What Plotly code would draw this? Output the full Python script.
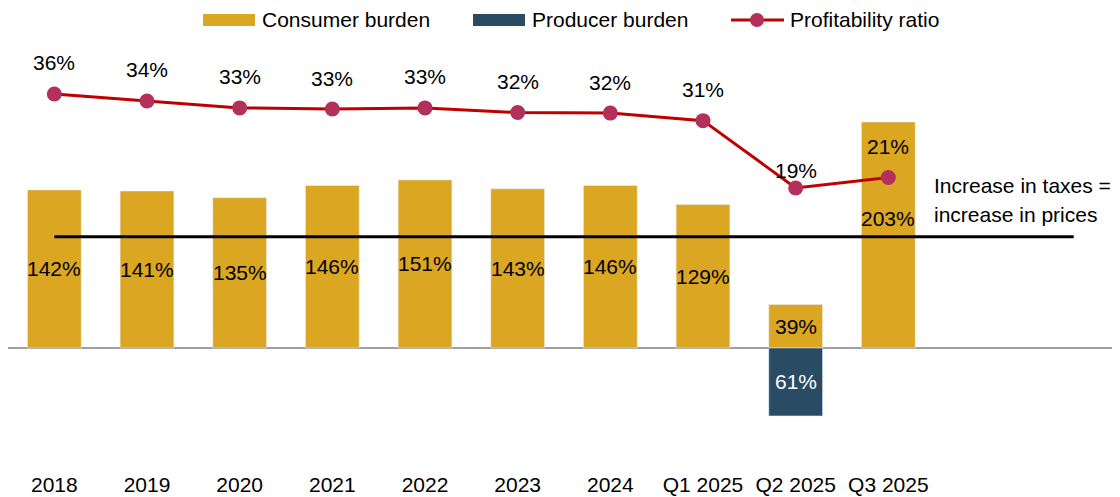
import plotly.graph_objects as go

categories = ["2018", "2019", "2020", "2021", "2022", "2023", "2024",
              "Q1 2025", "Q2 2025", "Q3 2025", "", " "]
consumer = [142, 141, 135, 146, 151, 143, 146, 129, 39, 203]
producer = [None, None, None, None, None, None, None, None, -61, None]
profit = [35.6, 34.4, 33.2, 33.0, 33.2, 32.4, 32.3, 31.0, 19.4, 21.2]
threshold = 100
legend_names = ["Consumer burden", "Producer burden", "Profitability ratio"]
note_lines = ["Increase in taxes =", "increase in prices"]

GOLD = "#DBA622"
NAVY = "#294B63"
RED = "#C00000"
MARK = "#B3305A"
FONT = "Liberation Sans, Arial, sans-serif"
FS = 21

xs = list(range(len(categories)))
n = len(consumer)

fig = go.Figure()
fig.add_trace(go.Bar(x=xs[:n], y=consumer, marker_color=GOLD, width=0.58,
                     name=legend_names[0], showlegend=False))
fig.add_trace(go.Bar(x=xs[:n], y=producer, marker_color=NAVY, width=0.58,
                     name=legend_names[1], showlegend=False))
fig.add_trace(go.Scatter(x=xs[:n], y=profit, yaxis="y2", mode="lines+markers",
                         line=dict(color=RED, width=3),
                         marker=dict(color=MARK, size=15),
                         name=legend_names[2], showlegend=False))

# Page has an 8px body margin; figure sized to fit the window
OFF = 8
W, H = 1120 - OFF, 497 - OFF
ml, mr, mt, mb = 0, 0, 40 - OFF, 497 - 470
pw, ph = W - ml - mr, H - mt - mb


def px_x(x):
    return (x - OFF - ml) / pw


def px_y(y):
    return (H - mb - (y - OFF)) / ph


def font(color="black"):
    return dict(size=FS, color=color, family=FONT)


ann = []
for i, v in enumerate(consumer):
    ann.append(dict(x=i, y=v / 2, text=f"{v}%", showarrow=False,
                    yanchor="middle", yshift=17 if v > 200 else 0, font=font()))
for i, v in enumerate(producer):
    if v is not None:
        ann.append(dict(x=i, y=v / 2, text=f"{abs(v)}%", showarrow=False,
                        yanchor="middle", font=font("white")))
for i, v in enumerate(profit):
    ann.append(dict(x=i, y=v, yref="y2", text=f"{round(v)}%", showarrow=False,
                    yanchor="middle", yshift=17 if v < 20 else 31, font=font()))
for k, (t, y) in enumerate(zip(note_lines, [185, 215])):
    ann.append(dict(x=px_x(932), y=px_y(y), xref="paper", yref="paper",
                    text=t, showarrow=False, xanchor="left", yanchor="middle",
                    font=font()))

shapes = [
    dict(type="line", xref="x", yref="y", x0=0, x1=11, y0=threshold, y1=threshold,
         line=dict(color="black", width=3)),
    dict(type="rect", xref="paper", yref="paper", x0=px_x(203), x1=px_x(255),
         y0=px_y(26), y1=px_y(14), fillcolor=GOLD, line=dict(width=0)),
    dict(type="rect", xref="paper", yref="paper", x0=px_x(473), x1=px_x(525),
         y0=px_y(26), y1=px_y(14), fillcolor=NAVY, line=dict(width=0)),
    dict(type="line", xref="paper", yref="paper", x0=px_x(731), x1=px_x(784),
         y0=px_y(20), y1=px_y(20), line=dict(color=RED, width=3)),
    dict(type="circle", xref="paper", yref="paper", x0=px_x(750), x1=px_x(764),
         y0=px_y(27), y1=px_y(13), fillcolor=MARK, line=dict(width=0)),
]
for x, t in zip([260, 530, 788], legend_names):
    ann.append(dict(x=px_x(x), y=px_y(20), xref="paper", yref="paper", text=t,
                    showarrow=False, xanchor="left", yanchor="middle", font=font()))

fig.update_layout(
    width=W, height=H,
    margin=dict(l=ml, r=mr, t=mt, b=mb, pad=0),
    paper_bgcolor="white", plot_bgcolor="white",
    barmode="relative",
    showlegend=False,
    font=dict(family=FONT, size=FS, color="black"),
    xaxis=dict(tickmode="array", tickvals=xs, ticktext=categories,
               range=[-0.5, 11.5], showgrid=False, showline=False,
               ticks="", tickfont=font(), automargin=False),
    yaxis=dict(range=[-109.6, 276.7], showgrid=False, showticklabels=False,
               zeroline=True, zerolinecolor="#A0A0A0", zerolinewidth=2),
    yaxis2=dict(range=[-29.2, 44.9], overlaying="y", side="right",
                showgrid=False, showticklabels=False, zeroline=False),
    annotations=ann,
    shapes=shapes,
)

fig.write_html("out.html")
